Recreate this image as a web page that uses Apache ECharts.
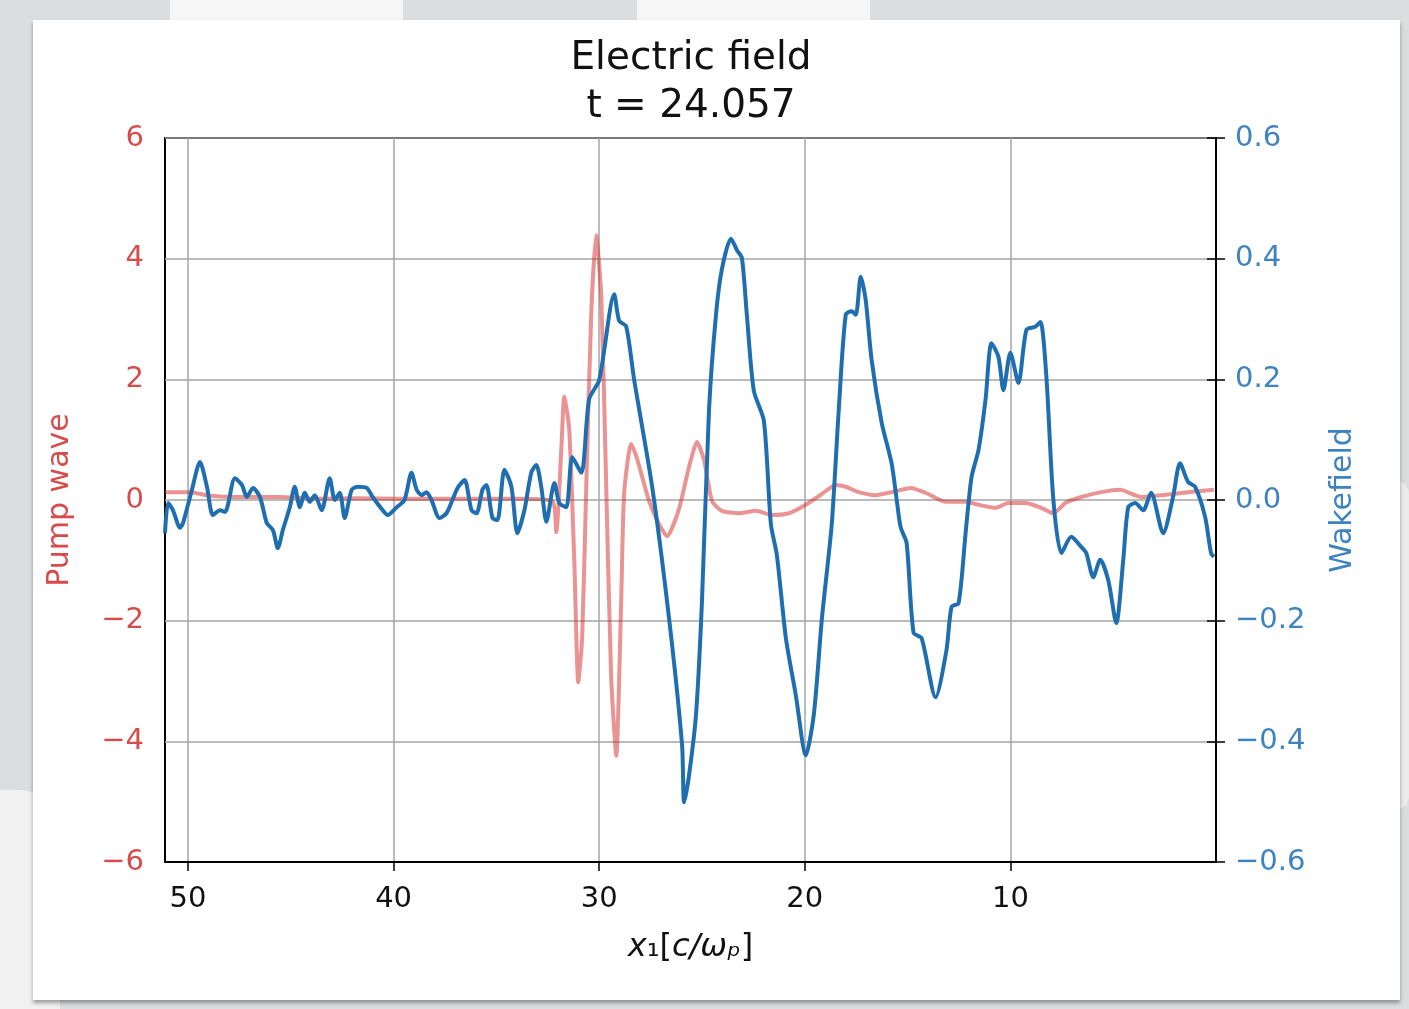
<!DOCTYPE html>
<html>
<head>
<meta charset="utf-8">
<script src="https://cdn.jsdelivr.net/npm/echarts@6/dist/echarts.min.js"></script>
<style>
  html, body { margin: 0; padding: 0; width: 1409px; height: 1009px; overflow: hidden; background: #dcdddf; }
  .deco { position: absolute; }
  #chart { position: absolute; left: 0; top: 0; width: 1409px; height: 1009px; }
</style>
</head>
<body>
<div class="deco" style="left:170px;top:0;width:233px;height:20px;background:#f6f6f6;"></div>
<div class="deco" style="left:637px;top:0;width:233px;height:20px;background:#f6f6f6;"></div>
<div class="deco" style="left:0;top:790px;width:60px;height:219px;background:#f1f1f1;border-top-right-radius:40px;"></div>
<div class="deco" style="left:1380px;top:480px;width:29px;height:330px;background:#ececec;border-radius:20px;"></div>
<div class="deco" style="left:33px;top:20px;width:1367px;height:980px;background:#ffffff;box-shadow:0 3px 4px rgba(0,0,0,0.35);"></div>
<div id="chart"></div>
<script>
// ---- data ----
const xTicks = [10, 20, 30, 40, 50];
const leftTicks = [-6, -4, -2, 0, 2, 4, 6];
const rightTicks = [-0.6, -0.4, -0.2, 0.0, 0.2, 0.4, 0.6];

const wakeX = [51.12,50.97,50.73,50.39,50.24,49.81,49.42,49.08,48.79,48.45,48.20,47.72,47.38,47.14,46.84,46.50,46.17,45.87,45.63,45.39,45.05,44.81,44.56,44.32,44.08,43.83,43.50,43.11,42.86,42.62,42.38,42.04,41.75,41.31,41.02,40.53,40.29,39.85,39.47,39.13,38.88,38.64,38.40,38.16,37.77,37.43,37.14,36.89,36.55,36.21,35.97,35.68,35.49,35.19,34.95,34.61,34.27,33.98,33.64,33.30,33.06,32.82,32.57,32.18,31.94,31.60,31.31,30.87,30.49,30.00,29.27,29.03,28.69,28.30,27.43,26.60,25.97,25.87,25.63,25.29,25.00,24.66,24.32,24.03,23.59,23.30,23.06,22.82,22.48,21.99,21.65,21.36,20.92,20.44,19.95,19.56,19.17,18.69,18.35,18.01,17.72,17.52,17.28,17.04,16.75,16.26,15.78,15.53,15.34,15.05,14.71,14.32,13.64,13.11,12.86,12.52,12.18,11.89,11.55,11.21,10.92,10.58,10.34,10.00,9.61,9.22,8.79,8.54,8.25,7.91,7.52,7.04,6.55,6.31,5.97,5.63,5.24,4.85,4.51,4.27,3.93,3.54,3.16,2.57,2.09,1.75,1.36,1.02,0.53,0.24,0.10];
const wakeY = [-0.055,-0.005,-0.017,-0.046,-0.038,0.017,0.063,0.022,-0.025,-0.017,-0.020,0.036,0.025,0.005,0.020,0.005,-0.038,-0.050,-0.080,-0.050,-0.012,0.022,-0.012,0.012,-0.003,0.008,-0.017,0.036,0.000,0.012,-0.030,0.017,0.022,0.020,0.005,-0.017,-0.025,-0.012,0.000,0.045,0.017,0.008,0.013,0.000,-0.030,-0.022,0.000,0.020,0.033,-0.017,-0.022,0.017,0.025,-0.030,-0.033,0.050,0.022,-0.055,-0.017,0.046,0.058,0.022,-0.036,0.028,-0.005,-0.012,0.071,0.045,0.167,0.199,0.341,0.297,0.288,0.199,0.023,-0.197,-0.406,-0.501,-0.456,-0.355,-0.166,0.149,0.307,0.383,0.433,0.414,0.401,0.307,0.181,0.131,-0.040,-0.091,-0.229,-0.323,-0.423,-0.355,-0.197,-0.040,0.149,0.307,0.313,0.307,0.370,0.332,0.232,0.128,0.061,0.000,-0.045,-0.071,-0.220,-0.229,-0.327,-0.249,-0.177,-0.171,-0.055,0.038,0.083,0.166,0.260,0.237,0.182,0.244,0.194,0.282,0.287,0.295,0.204,0.000,-0.088,-0.061,-0.078,-0.088,-0.128,-0.099,-0.133,-0.204,-0.099,-0.012,-0.005,-0.017,0.012,-0.055,0.005,0.061,0.030,0.022,-0.028,-0.088,-0.094];

const pumpX = [51.12,49.90,48.93,47.48,45.53,43.59,41.65,39.71,37.77,35.83,33.88,32.28,32.09,31.84,31.70,31.46,31.21,31.02,30.83,30.63,30.39,30.15,29.90,29.66,29.42,29.17,28.93,28.79,28.45,28.20,27.57,27.09,26.70,26.12,25.63,25.24,24.90,24.51,24.03,23.20,22.38,21.60,20.78,19.95,19.17,18.50,18.01,17.38,16.55,15.78,14.85,14.13,13.16,12.18,11.55,10.73,10.10,9.27,8.50,7.91,7.33,6.55,5.58,4.66,3.64,2.67,1.36,0.10];
const pumpY = [0.13,0.13,0.07,0.05,0.05,0.02,0.03,0.02,0.02,0.02,0.02,-0.02,-0.53,0.86,1.71,1.18,-1.03,-3.02,-2.29,0.23,3.07,4.39,3.38,0.23,-2.92,-4.24,-1.66,0.10,0.93,0.73,-0.02,-0.40,-0.60,-0.15,0.55,0.96,0.66,-0.02,-0.18,-0.22,-0.18,-0.25,-0.22,-0.08,0.10,0.25,0.22,0.13,0.08,0.13,0.20,0.12,-0.03,-0.03,-0.08,-0.13,-0.05,-0.05,-0.13,-0.22,-0.05,0.05,0.13,0.17,0.05,0.08,0.13,0.17];

// ---- chart ----
const FONT = 'DejaVu Sans';
const RED_LABEL = '#d84b4b';
const BLUE_LABEL = '#3f82c0';
const minus = s => s.replace('-', '\u2212');

const chart = echarts.init(document.getElementById('chart'), null, { renderer: 'canvas' });
chart.setOption({
  backgroundColor: 'transparent',
  animation: false,
  title: {
    text: 'Electric field\nt = 24.057',
    left: 686,
    top: 30,
    textAlign: 'center',
    textStyle: { fontFamily: FONT, fontSize: 39, fontWeight: 'normal', color: '#111', lineHeight: 48 }
  },
  grid: {
    left: 165, right: 193, top: 138, bottom: 147,
    show: true, borderColor: '#000', borderWidth: 2, backgroundColor: 'transparent',
    containLabel: false
  },
  xAxis: {
    type: 'value',
    inverse: true,
    min: 0, max: 51.12, interval: 10,
    name: '{i|x}{n|\u2081[}{i|c/\u03c9\u209a}{n|]}',
    nameLocation: 'middle',
    nameGap: 70,
    nameTextStyle: {
      rich: {
        i: { fontFamily: FONT, fontSize: 32, fontStyle: 'italic', color: '#111' },
        n: { fontFamily: FONT, fontSize: 32, color: '#111' }
      }
    },
    axisLine: { show: true, onZero: false, lineStyle: { color: '#000', width: 2 } },
    axisTick: { show: true, length: 9, customValues: xTicks, lineStyle: { color: '#000', width: 1.5 } },
    axisLabel: {
      customValues: xTicks,
      margin: 23, fontFamily: FONT, fontSize: 29, color: '#111',
      formatter: v => String(v)
    },
    splitLine: { show: true, lineStyle: { color: '#a4a4a4', width: 1.5 } }
  },
  yAxis: [
    {
      type: 'value', position: 'left',
      min: -6, max: 6, interval: 2,
      name: 'Pump wave', nameLocation: 'middle', nameGap: 90,
      nameTextStyle: { fontFamily: FONT, fontSize: 30, color: RED_LABEL },
      axisLine: { show: true, lineStyle: { color: '#000', width: 2 } },
      axisTick: { show: true, length: 9, lineStyle: { color: '#000', width: 1.5 } },
      axisLabel: {
        margin: 21, fontFamily: FONT, fontSize: 29, color: RED_LABEL,
        formatter: v => minus(String(v))
      },
      splitLine: { show: true, lineStyle: { color: '#a4a4a4', width: 1.5 } }
    },
    {
      type: 'value', position: 'right',
      min: -0.6, max: 0.6, interval: 0.2,
      name: 'Wakefield', nameLocation: 'middle', nameGap: 112,
      nameTextStyle: { fontFamily: FONT, fontSize: 30, color: BLUE_LABEL },
      axisLine: { show: true, lineStyle: { color: '#000', width: 2 } },
      axisTick: { show: true, length: 9, lineStyle: { color: '#000', width: 1.5 } },
      axisLabel: {
        margin: 19, fontFamily: FONT, fontSize: 29, color: BLUE_LABEL,
        formatter: v => Math.abs(v) < 1e-9 ? '0.0' : minus(v.toFixed(1))
      },
      splitLine: { show: false }
    }
  ],
  series: [
    {
      name: 'Pump wave', type: 'line', yAxisIndex: 0,
      data: pumpX.map((x, i) => [x, pumpY[i]]),
      showSymbol: false, symbol: 'none', smooth: 0.2,
      lineStyle: { color: 'rgba(214,39,40,0.5)', width: 4, join: 'round' },
      z: 2
    },
    {
      name: 'Wakefield', type: 'line', yAxisIndex: 1,
      data: wakeX.map((x, i) => [x, wakeY[i]]),
      showSymbol: false, symbol: 'none', smooth: 0.25,
      lineStyle: { color: '#1f6fb0', width: 4, join: 'round' },
      z: 3
    }
  ]
});
</script>
</body>
</html>
